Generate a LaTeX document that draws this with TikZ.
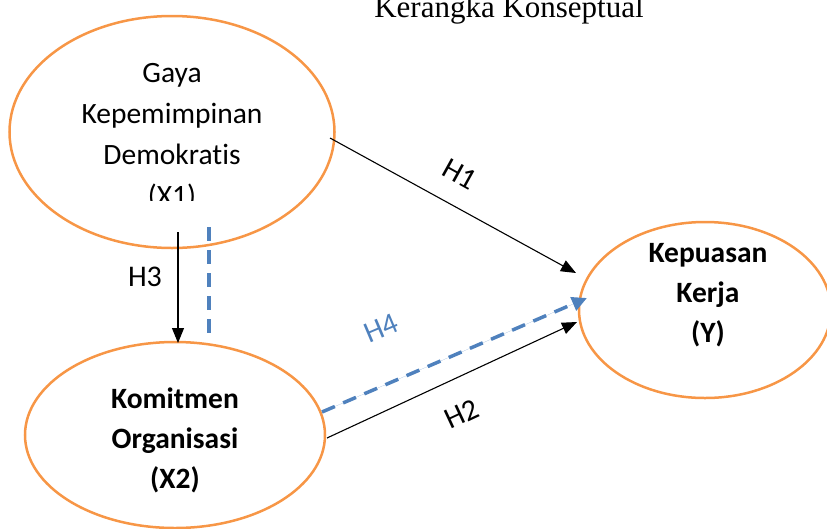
\documentclass[tikz,border=0pt]{standalone}
\usepackage{fontspec}
\setmainfont[Ligatures={NoCommon}]{Carlito}
\newfontfamily\titlefont{Liberation Serif}
\usetikzlibrary{arrows.meta,shapes.geometric}
\definecolor{ellorange}{HTML}{F79646}
\definecolor{hblue}{HTML}{4F81BD}
\tikzset{
  var/.style={draw=ellorange, line width=2.5pt, ellipse, inner sep=0pt},
  txt/.style={anchor=base, inner sep=0pt, font=\fontsize{29.5}{35}\selectfont},
  btxt/.style={anchor=base, inner sep=0pt, font=\fontsize{29.5}{35}\selectfont\bfseries},
  hlabel/.style={inner sep=0pt, font=\fontsize{30}{35}\selectfont},
  solidarrow/.style={draw=black, line width=1.1pt, -{Triangle[length=15pt,width=12pt]}},
  blueline/.style={draw=hblue, line width=3.5pt, dash pattern=on 14pt off 9pt},
}
\begin{document}
\begin{tikzpicture}[x=1pt,y=-1pt]
\useasboundingbox (0,0) rectangle (827,528);
% title
\begin{scope}
\clip (0,0) rectangle (827,528);
\node[anchor=base, inner sep=0pt, font=\titlefont\fontsize{31}{35}\selectfont] (title) at (509,17) {Kerangka Konseptual};
\end{scope}
% ellipses
\node[var, minimum width=325pt, minimum height=232pt] (x1) at (172,132) {};
\node[var, minimum width=300pt, minimum height=186pt] (x2) at (175,435) {};
\node[var, minimum width=252pt, minimum height=176pt] (y) at (705,310) {};
% texts
\node[txt] (x1a) at (172,82) {Gaya};
\node[txt] (x1b) at (172,123) {Kepemimpinan};
\node[txt] (x1c) at (172,164) {Demokratis};
\begin{scope}
\clip (0,0) rectangle (827,200);
\node[txt] (x1d) at (172,205) {(X1)};
\end{scope}
\node[btxt] (x2a) at (175,408) {Komitmen};
\node[btxt] (x2b) at (175,448) {Organisasi};
\node[btxt] (x2c) at (175,488) {(X2)};
\node[btxt] (ya) at (708,262) {Kepuasan};
\node[btxt] (yb) at (708,302) {Kerja};
\node[btxt] (yc) at (708,342) {(Y)};
% connector end points
\coordinate (h1s) at (330,138);
\coordinate (h1e) at (576,273);
\coordinate (h2s) at (327,438);
\coordinate (h2e) at (577,322);
\coordinate (h3s) at (178,232);
\coordinate (h3e) at (178,343);
\coordinate (h4s) at (322,412);
\coordinate (h4e) at (587,298);
\coordinate (vs) at (209,227);
\coordinate (ve) at (209,342);
% connectors
\draw[solidarrow] (h1s) -- (h1e);
\draw[solidarrow] (h2s) -- (h2e);
\draw[solidarrow] (h3s) -- (h3e);
\draw[blueline] (vs) -- (ve);
\draw[blueline, -{Triangle[length=15pt,width=14pt]}, fill=hblue] (h4s) -- (h4e);
% labels
\node[hlabel, rotate=-29] (lh1) at (460,174) {H1};
\node[hlabel, rotate=25] (lh2) at (462,414) {H2};
\node[hlabel] (lh3) at (145,277) {H3};
\node[hlabel, rotate=23, text=hblue] (lh4) at (381,328) {H4};
\end{tikzpicture}
\end{document}
